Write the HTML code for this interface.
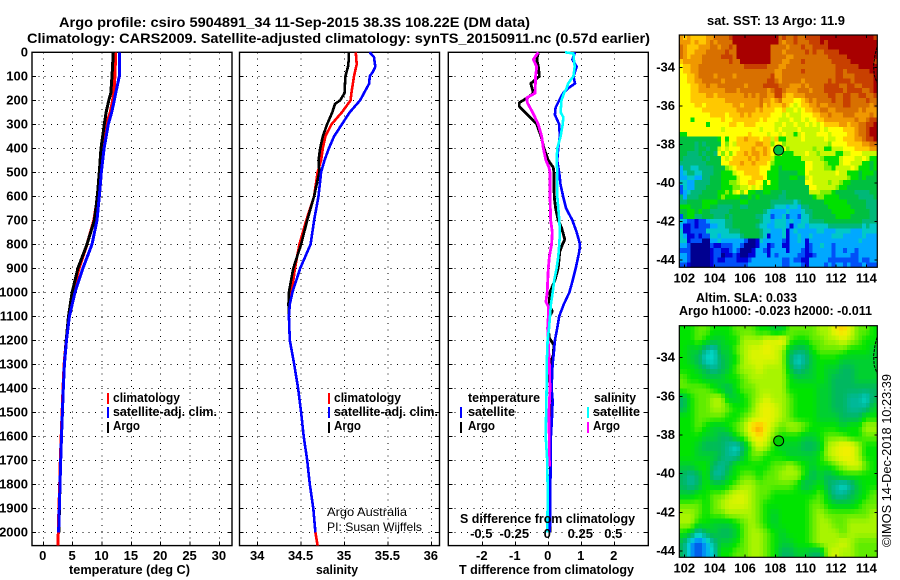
<!DOCTYPE html>
<html lang="en">
<head>
<meta charset="utf-8">
<title>Argo profile csiro 5904891_34</title>
<style>
html,body{margin:0;padding:0;background:#fff;}
svg{display:block;}
text{font-family:"Liberation Sans",sans-serif;font-weight:bold;fill:#000;}
.t{font-size:14px;}
.l{font-size:12.5px;}
.r{font-weight:normal;font-size:12px;}
</style>
</head>
<body>
<svg id="chart" width="900" height="580" viewBox="0 0 900 580" xmlns="http://www.w3.org/2000/svg">
<rect x="0" y="0" width="900" height="580" fill="#fff"></rect>
<text class="t" x="59" y="27" textLength="471" lengthAdjust="spacingAndGlyphs">Argo profile: csiro 5904891_34 11-Sep-2015 38.3S 108.22E (DM data)</text>
<text class="t" x="27" y="43" textLength="623" lengthAdjust="spacingAndGlyphs">Climatology: CARS2009. Satellite-adjusted climatology: synTS_20150911.nc (0.57d earlier)</text>

<g id="panel-layer"></g>

<text class="l" x="69" y="574" textLength="121" lengthAdjust="spacingAndGlyphs">temperature (deg C)</text>
<text class="l" x="316" y="574" textLength="42" lengthAdjust="spacingAndGlyphs">salinity</text>
<text class="l" x="459" y="574" textLength="175" lengthAdjust="spacingAndGlyphs">T difference from climatology</text>
<text class="l" x="460" y="523" textLength="175" lengthAdjust="spacingAndGlyphs">S difference from climatology</text>

<g>
<rect x="107" y="393" width="2" height="11" fill="#f00"></rect>
<rect x="107" y="407" width="2" height="11" fill="#00f"></rect>
<rect x="107" y="422" width="2" height="11" fill="#000"></rect>
<text class="l" x="113" y="402" textLength="67" lengthAdjust="spacingAndGlyphs">climatology</text>
<text class="l" x="113" y="416" textLength="104" lengthAdjust="spacingAndGlyphs">satellite-adj. clim.</text>
<text class="l" x="113" y="430" textLength="27" lengthAdjust="spacingAndGlyphs">Argo</text>
</g>
<g>
<rect x="328" y="393" width="2" height="11" fill="#f00"></rect>
<rect x="328" y="407" width="2" height="11" fill="#00f"></rect>
<rect x="328" y="422" width="2" height="11" fill="#000"></rect>
<text class="l" x="334" y="402" textLength="67" lengthAdjust="spacingAndGlyphs">climatology</text>
<text class="l" x="334" y="416" textLength="104" lengthAdjust="spacingAndGlyphs">satellite-adj. clim.</text>
<text class="l" x="334" y="430" textLength="27" lengthAdjust="spacingAndGlyphs">Argo</text>
</g>
<text class="r" x="327" y="516" textLength="80" lengthAdjust="spacingAndGlyphs">Argo Australia</text>
<text class="r" x="327" y="531" textLength="95" lengthAdjust="spacingAndGlyphs">PI: Susan Wijffels</text>

<g>
<text class="l" x="468" y="402" textLength="72" lengthAdjust="spacingAndGlyphs">temperature</text>
<text class="l" x="594" y="402" textLength="42" lengthAdjust="spacingAndGlyphs">salinity</text>
<rect x="460" y="407" width="2" height="11" fill="#00f"></rect>
<rect x="460" y="422" width="2" height="11" fill="#000"></rect>
<rect x="587" y="407" width="2" height="11" fill="#0ff"></rect>
<rect x="587" y="422" width="2" height="11" fill="#f0f"></rect>
<text class="l" x="468" y="416" textLength="47" lengthAdjust="spacingAndGlyphs">satellite</text>
<text class="l" x="468" y="430" textLength="27" lengthAdjust="spacingAndGlyphs">Argo</text>
<text class="l" x="593" y="416" textLength="47" lengthAdjust="spacingAndGlyphs">satellite</text>
<text class="l" x="593" y="430" textLength="27" lengthAdjust="spacingAndGlyphs">Argo</text>
</g>

<g id="map-layer"></g>

<text class="l" x="707" y="25" textLength="138" lengthAdjust="spacingAndGlyphs">sat. SST: 13 Argo: 11.9</text>
<text class="l" x="696" y="302" textLength="101" lengthAdjust="spacingAndGlyphs">Altim. SLA: 0.033</text>
<text class="l" x="679" y="315" textLength="193" lengthAdjust="spacingAndGlyphs">Argo h1000: -0.023 h2000: -0.011</text>
<text class="r" transform="translate(891,547) rotate(-90)" style="font-size:13px" textLength="173" lengthAdjust="spacingAndGlyphs">©IMOS 14-Dec-2018 10:23:39</text>
</svg>

<script>
const depthTicks = [0,100,200,300,400,500,600,700,800,900,1000,1100,1200,1300,1400,1500,1600,1700,1800,1900,2000];

const tempTicks = [0,5,10,15,20,25,30];
const salTicks = [34,34.5,35,35.5,36];
const salTickLabels = ["34","34.5","35","35.5","36"];
const tDiffTicks = [-2,-1,0,1,2];
const sDiffTicks = [-0.5,-0.25,0,0.25,0.5];
const sDiffTickLabels = ["-0.5","-0.25","0","0.25","0.5"];

const tempDepth = [0,100,170,200,250,300,400,500,600,700,800,900,1000,1100,1200,1300,1400,1500,1600,1700,1800,1900,2000,2055];
const tempClim = [12.33,12.2,12,11.8,11.4,10.7,10.1,9.66,9.27,8.6,7.45,6.1,5,4.3,3.9,3.55,3.35,3.2,3.05,2.9,2.8,2.65,2.55,2.5];
const tempArgo = [11.93,11.7,11.5,11.15,10.7,10.4,9.83,9.54,9.2,8.7,7.45,5.9,4.9,4.3,3.9,3.6,3.4,3.25,3.1,2.97,2.85,2.75,2.65];
const tempSat = [13,12.95,12.33,12.1,11.65,11.07,10.35,9.88,9.54,9.15,8.3,6.75,5.4,4.45,3.95,3.6,3.4,3.25,3.1,2.97,2.85,2.73,2.6];

const salArgoDepth = [0,30,60,100,170,200,215,250,300,350,400,450,500,600,700,800,900,1000,1050,1100,1200,1300,1400,1500,1600,1700,1800,1900,2000];
const salArgo = [35.05,35.05,35.04,35.01,35,34.95,34.89,34.86,34.8,34.75,34.72,34.7,34.71,34.65,34.57,34.5,34.41,34.36,34.355,34.36,34.37,34.42,34.465,34.5,34.53,34.57,34.6,34.64,34.665];
const salClimDepth = [0,50,100,170,200,250,300,350,400,450,500,600,700,800,900,1000,1050,1100,1200,1300,1400,1500,1600,1700,1800,1900,2000,2055];
const salClim = [35.13,35.14,35.11,35.08,35.07,34.97,34.85,34.78,34.75,34.73,34.69,34.65,34.56,34.48,34.43,34.39,34.365,34.36,34.37,34.42,34.465,34.5,34.53,34.57,34.6,34.64,34.665,34.69];
const salSatDepth = [0,20,60,80,100,130,150,200,250,300,350,400,450,500,600,700,800,900,1000,1050,1100,1200,1300,1400,1500,1600,1700,1800,1900,2000];
const salSat = [35.29,35.34,35.355,35.33,35.29,35.285,35.255,35.18,35.06,34.97,34.88,34.82,34.77,34.73,34.7,34.65,34.61,34.49,34.4,34.37,34.36,34.37,34.42,34.465,34.5,34.53,34.57,34.6,34.64,34.665];

const tDiffArgoDepth = [0,30,60,100,130,170,190,210,225,250,300,350,400,450,480,500,600,650,700,730,780,800,830,900,950,1000,1050,1080,1100,1150,1190,1220,1260,1310,1340,1400,1500,1600,1700,2000];
const tDiffArgo = [-0.3,-0.35,-0.3,-0.27,-0.53,-0.45,-0.64,-0.88,-0.88,-0.71,-0.35,-0.22,-0.13,0,0.15,0.17,0.18,0.22,0.3,0.4,0.5,0.43,0.35,0.3,0.2,0.05,0.03,0.12,0.05,0,0.03,0.17,0.15,0.03,0,0.07,0.1,0.07,0.06,0.05];
const tDiffSatDepth = [0,30,60,100,130,150,170,200,230,260,300,350,400,450,500,550,600,650,700,750,800,830,900,950,1000,1050,1100,1150,1200,1250,1300,1400,1450,1500,1600,2000];
const tDiffSat = [0.81,0.73,0.86,0.76,0.81,0.6,0.45,0.33,0.22,0.2,0.33,0.35,0.3,0.27,0.33,0.37,0.45,0.54,0.73,0.86,0.96,0.94,0.83,0.74,0.64,0.47,0.33,0.27,0.2,0.17,0.13,0.1,0.13,0.12,0.08,0.05];
const sDiffArgoDepth = [0,30,60,100,170,190,210,250,300,350,400,450,480,500,600,700,750,800,850,900,1000,1040,1060,1100,1150,1300,1400,1500,1726];
const sDiffArgo = [-0.076,-0.114,-0.088,-0.096,-0.1,-0.164,-0.159,-0.119,-0.076,-0.05,-0.038,-0.018,0.005,0.0126,0.0126,0.018,0.03,0.025,0.008,0,-0.008,-0.018,0,0,-0.005,0.008,0.013,0.005,0.008];
const sDiffSatDepth = [0,5,30,60,100,130,150,170,200,250,270,300,350,400,450,500,600,700,750,800,850,900,950,1000,1050,1100,1150,1200,1250,1300,1400,1600,1700,1800,1900,2000];
const sDiffSat = [0.126,0.19,0.194,0.2,0.19,0.15,0.139,0.119,0.1,0.093,0.114,0.109,0.093,0.068,0.063,0.068,0.068,0.083,0.088,0.083,0.076,0.063,0.045,0.033,0.02,0.013,0.005,-0.005,-0.008,-0.013,-0.013,-0.02,-0.008,-0.005,-0.005,-0.008];

const lonTicks = [102,104,106,108,110,112,114];
const latTicks = [-34,-36,-38,-40,-42,-44];
const argoLon = 108.22;
const argoLat = -38.3;

const sstPalette = ["#000090","#0000d8","#0050f8","#00a8ff","#00c8c8","#00b878","#00c040","#00e000","#80f000","#c8f800","#ffff00","#ffc800","#f09800","#d87000","#c84000","#a80000"];
const sstRows = [
"cbcbbbbccdddde ffffffffffff deddeddeee effffffffffffffe",
"cccbcbbcdcdddd ffffffffffff dcddedddee efeffffffffffff f",
"dcbbbcccddcdde dfffffffffdd ddcdddedde eeefffffffffffff",
"dcbbcccddddded dfffffffffdd dcdddddede ddeeeeffffffffff",
"dcbcccdddddeee dfffffffffdd ddccdddddd dddeeeeeffffffff",
"bcccccddddddde ddffffffffdd dccdddeddd ddddeeeeeffffffe",
"abbccddddddddd dddeeeeeeddd ccdddddddd dddddeeeeeefffff",
"abbccddddddddd dddddddddddc cdddddeddd dddddeedeeeeeeff",
"aabbcddddcdddd cdddddddddec cddddddddd dddddeedddeeeeef",
"aabbccdddddcdd dddddddddeed cdddddcddd dddedeeeedeeeeef",
"aaabbccdccdddd dddcddddeeee dddcccdcdd ddeeeeddeeddeeef",
"aaabbcccccccdd dcdddddddcde edcccdddcd ddeeeeedeeeeddef",
"aaabbbbccbcccc cccdcdcddcce ecbbcccddd dddeeddeeddeedde",
"aaabbbbbbbbbcc cccccccdccbc dbbbaabcdc ddddeddeeddddedd",
"aaaabbabbbbbbb ccbccccdbcbb bcba9abbcc dccddddeedddddcd",
"aaaaaabbbbbbbb bcccccbcbbba ab99a9abbc cddccddddddcdccc",
"aaaaaaaabbbbab bbcbcbbbbbaa a9a999aaab bccdcccdddccccdc",
"aaa7aaaaaaabaa bbbbbbbabaaa 999a99a9aa bbccccccccdccdee",
"aaaaaaa7aaaaab baabbbaaaaa9 9a99a99a9a 9abbbbccbccddeef",
"aaaaaaaaaaa9aa aaaaaaa9aaa9 a9999a9999 9a9aaaabbbcddeff",
"77aaaaaaaaaaaa aaaabaaaa9aa 9a9979a999 aaa9aaaabbcddeff",
"66666666667a7a abbcbbbabb9b 779999a999 99a99aabbbccdeef",
"66665656666a8a 9bbbbbccbb8a a899999999 9998aaaabbbbccdd",
"66665665669a9a aabbbcbbcba7 aa89999998 9977999aaabbbbcc",
"6655565665a8a8 abbcbccbcba8 9777999a99 899997799aaa9999",
"65555565666a9a bbbbcbcbbb97 7777779999 9877779aaa99a977",
"55555556666aab bbcbbcbbba87 7777777aa9 9987779aa9997767",
"35544555566689 abbbbbbaaa77 6777777aa9 998879999a977767",
"34554455566777 9aabbbbaa777 6666677a99 99999a9977767776",
"33443355666777 79aaabbba777 66677669a9 9999999987767666",
"44335555666778 89aabbaa7a77 6666666aa9 9998998776666666",
"24335556666777 8899a9a97777 66666666aa 9999987766666666",
"23455566667787 9a8a77667766 6566666699 9888766666555566",
"53555666667877 776676766666 5566666667 8877776666655556",
"55666677776666 667766666655 5555456666 6677777766666555",
"77766677665555 665566666654 4434435566 6667777776666555",
"66776766555556 666666665433 3343334556 6666777777666655",
"26775566655565 666666554423 3423324456 6666677776666655",
"43221223444455 666666654434 4434334455 5566666666665555",
"31121222334455 666666544334 4431344344 4445555555554544",
"41122224444445 556666654433 3413433333 4433344443334444",
"43112122443444 445666654133 3413343343 3333444333334333",
"44122200334333 333200143333 3213343133 3333333333343333",
"33200000211222 332000133123 3113333123 3433233333333333",
"22200000122112 320001332133 3313332123 3333233233233333",
"33200000122011 210011333132 3333322112 3333233332233333",
"33200000121122 211123333333 3223221133 3332222222232233",
"22100000122222 222233333333 3223332133 3323233232223222"
];

const slaPalette = ["#0048e8","#00a8f8","#00d8c8","#00b898","#00b860","#00d030","#00e400","#60ec00","#a8f400","#d8f400","#f0f000","#ffd000","#ff9000"];
const slaRows = [
"66776667776655777788ab9776",
"6676556688899a766778898766",
"65532557899a98544677776665",
"65422456899998423566655555",
"66543457889888534565544555",
"76655566788888655565444555",
"77776546778888666655444444",
"46778855678988766655443324",
"46778876679a98766655443335",
"66777766789a98766655544466",
"667655678bca87887666656688",
"666554467 9b976 6655 6777 6677",
"6654443247986555 4458 9aa866",
"66555433577666555568 9aa866",
"55664346666677876566 789976",
"43463356776778886454 566666",
"43465567887777764564 323566",
"55667789987766666675 334567",
"77767899987666666776 555677",
"88767788887656666787 777778",
"88665556787656666788 778888",
"65245445788765666788 878888",
"41013556788765566788 898777",
"41012667788764455448 988777"
].map(function (r) { return r.replace(/ /g, ''); });

const NS = "http://www.w3.org/2000/svg";
const yDepth = function (d) { return 52.3 + 0.24 * d; };
const xTemp = function (v) { return 43.3 + 5.87 * v; };
const xSal = function (v) { return 257.7 + 86.8 * (v - 34); };
const xTDiff = function (v) { return 548.3 + 33 * v; };
const xSDiff = function (v) { return 548.3 + 132 * v; };
const xLon = function (v) { return 684.3 + 15.17 * (v - 102); };
const panelTop = 52.3;
const panelBottom = 545.6;

function make(tag, parent, attrs, txt) {
  const el = document.createElementNS(NS, tag);
  Object.keys(attrs).forEach(function (k) { el.setAttribute(k, attrs[k]); });
  if (txt !== undefined) el.textContent = txt;
  parent.appendChild(el);
  return el;
}

const panelLayer = document.getElementById('panel-layer');
const mapLayer = document.getElementById('map-layer');

function drawProfile(parent, name, depths, values, xFn, color, width) {
  let d = '';
  values.forEach(function (v, i) {
    d += (i ? 'L' : 'M') + xFn(v).toFixed(1) + ' ' + yDepth(depths[i]).toFixed(1);
  });
  const el = make('path', parent, {d: d, fill: 'none', stroke: color, 'stroke-width': width, 'stroke-linejoin': 'round', 'shape-rendering': 'crispEdges'});
  
  
}

function drawPanel(name, x0, x1, ticks, xFn, labels, showDepthLabels) {
  const g = make('g', panelLayer, {});
  
  
  depthTicks.forEach(function (d) {
    const y = yDepth(d);
    if (d > 0) {
      const gl = make('line', g, {x1: x0, x2: x1, y1: y, y2: y, stroke: '#000', 'stroke-width': 1, 'stroke-dasharray': '1 5.3', 'shape-rendering': 'crispEdges'});
      
      
      const tk = make('line', g, {x1: x0, x2: x0 + 4, y1: y, y2: y, stroke: '#000', 'stroke-width': 1, 'shape-rendering': 'crispEdges'});
      
      
      const tr = make('line', g, {x1: x1 - 4, x2: x1, y1: y, y2: y, stroke: '#000', 'stroke-width': 1, 'shape-rendering': 'crispEdges'});
      
      
    }
    if (showDepthLabels) {
      const tl = make('text', g, {x: 28, y: y + 4, 'text-anchor': 'end', 'font-size': 13}, String(d));
      
      
    }
  });
  ticks.forEach(function (t, i) {
    const x = xFn(t);
    const gl = make('line', g, {x1: x, x2: x, y1: panelTop, y2: panelBottom, stroke: '#000', 'stroke-width': 1, 'stroke-dasharray': '1 5.3', 'shape-rendering': 'crispEdges'});
    
    
    const tk = make('line', g, {x1: x, x2: x, y1: panelBottom - 4, y2: panelBottom, stroke: '#000', 'stroke-width': 1, 'shape-rendering': 'crispEdges'});
    
    
    const tl = make('text', g, {x: x - 0.5, y: 560, 'text-anchor': 'middle', 'font-size': 13}, labels[i]);
    
    
  });
  const fr = make('rect', g, {x: x0, y: panelTop, width: x1 - x0, height: panelBottom - panelTop, fill: 'none', stroke: '#000', 'stroke-width': 1.4});
  
  
  return g;
}

const tempPanel = drawPanel('temperature-panel', 32, 232, tempTicks, xTemp, tempTicks.map(String), true);
drawProfile(tempPanel, 'temperature-climatology-line', tempDepth, tempClim, xTemp, '#f00', 3);
drawProfile(tempPanel, 'temperature-argo-line', tempDepth, tempArgo, xTemp, '#000', 3);
drawProfile(tempPanel, 'temperature-satellite-line', tempDepth, tempSat, xTemp, '#00f', 3);

const salPanel = drawPanel('salinity-panel', 239.5, 439.5, salTicks, xSal, salTickLabels, false);
drawProfile(salPanel, 'salinity-climatology-line', salClimDepth, salClim, xSal, '#f00', 2.6);
drawProfile(salPanel, 'salinity-argo-line', salArgoDepth, salArgo, xSal, '#000', 2.6);
drawProfile(salPanel, 'salinity-satellite-line', salSatDepth, salSat, xSal, '#00f', 2.6);

const diffPanel = drawPanel('difference-panel', 448.3, 648.3, tDiffTicks, xTDiff, tDiffTicks.map(String), false);
drawProfile(diffPanel, 't-difference-argo-line', tDiffArgoDepth, tDiffArgo, xTDiff, '#000', 2.8);
drawProfile(diffPanel, 't-difference-satellite-line', tDiffSatDepth, tDiffSat, xTDiff, '#00f', 2.6);
drawProfile(diffPanel, 's-difference-argo-line', sDiffArgoDepth, sDiffArgo, xSDiff, '#f0f', 2.8);
drawProfile(diffPanel, 's-difference-satellite-line', sDiffSatDepth, sDiffSat, xSDiff, '#0ff', 2.6);

sDiffTicks.forEach(function (t, i) {
  const el = make('text', diffPanel, {x: xSDiff(t) - 1, y: 538, 'text-anchor': 'middle', 'font-size': 13}, sDiffTickLabels[i]);
  
  
});

function hex2rgb(h) {
  return [parseInt(h.substr(1, 2), 16), parseInt(h.substr(3, 2), 16), parseInt(h.substr(5, 2), 16)];
}
function slaColor(v) {
  const i = Math.max(0, Math.min(slaPalette.length - 1.001, v));
  const f = Math.floor(i);
  const a = hex2rgb(slaPalette[f]);
  const b = hex2rgb(slaPalette[f + 1]);
  const t = i - f;
  return 'rgb(' + Math.round(a[0] + (b[0] - a[0]) * t) + ',' + Math.round(a[1] + (b[1] - a[1]) * t) + ',' + Math.round(a[2] + (b[2] - a[2]) * t) + ')';
}
function slaValue(r, c) {
  const row = slaRows[Math.max(0, Math.min(slaRows.length - 1, r))];
  return parseInt(row[Math.max(0, Math.min(row.length - 1, c))], 16);
}
function slaSample(rf, cf) {
  const r0 = Math.floor(rf), c0 = Math.floor(cf), tr = rf - r0, tc = cf - c0;
  return (slaValue(r0, c0) * (1 - tc) + slaValue(r0, c0 + 1) * tc) * (1 - tr) +
         (slaValue(r0 + 1, c0) * (1 - tc) + slaValue(r0 + 1, c0 + 1) * tc) * tr;
}

const mapX0 = 679.3, mapX1 = 877.3, mapCols = 52, mapRows = 48;

function drawMapFrame(name, y0, y1, yLat, circleFill) {
  const g = make('g', mapLayer, {});
  
  
  const coast = make('path', g, {d: 'M877 ' + yLat(-32.95) + 'L875 ' + yLat(-33.35) + 'L873.6 ' + yLat(-33.9) + 'L874.2 ' + yLat(-34.4) + 'L877 ' + yLat(-34.8), fill: 'none', stroke: '#000', 'stroke-width': 1, 'stroke-dasharray': '3 1'});
  
  
  const marker = make('circle', g, {cx: xLon(argoLon), cy: yLat(argoLat), r: 5, fill: circleFill, stroke: '#000', 'stroke-width': 1});
  
  
  lonTicks.forEach(function (t) {
    const x = xLon(t);
    const tk = make('path', g, {d: 'M' + x + ' ' + y0 + 'v3M' + x + ' ' + y1 + 'v-3', stroke: '#000', 'stroke-width': 1, 'shape-rendering': 'crispEdges'});
    
    
    const tl = make('text', g, {x: x, y: y1 + 15, 'text-anchor': 'middle', 'font-size': 13}, String(t));
    
    
  });
  latTicks.forEach(function (t) {
    const y = yLat(t);
    const tk = make('path', g, {d: 'M' + mapX0 + ' ' + y + 'h3M' + mapX1 + ' ' + y + 'h-3', stroke: '#000', 'stroke-width': 1, 'shape-rendering': 'crispEdges'});
    
    
    const tl = make('text', g, {x: 675, y: y + 4, 'text-anchor': 'end', 'font-size': 13}, String(t));
    
    
  });
  const fr = make('rect', g, {x: mapX0, y: y0, width: mapX1 - mapX0, height: y1 - y0, fill: 'none', stroke: '#000', 'stroke-width': 1.2});
  
  
}

const sstY0 = 35, sstY1 = 267.3;
const sstCells = make('g', mapLayer, {'shape-rendering': 'crispEdges'});


sstRows.forEach(function (rowRaw, r) {
  const row = rowRaw.replace(/ /g, '');
  for (let c = 0; c < mapCols; c++) {
    const v = parseInt(row[Math.min(c, row.length - 1)], 16);
    const w = (mapX1 - mapX0) / mapCols, h = (sstY1 - sstY0) / mapRows;
    const cell = make('rect', sstCells, {x: (mapX0 + c * w).toFixed(2), y: (sstY0 + r * h).toFixed(2), width: (w + 0.3).toFixed(2), height: (h + 0.3).toFixed(2), fill: sstPalette[v]});
    
    
  }
});
drawMapFrame('sst-map-axes', sstY0, sstY1, function (lat) { return 67.3 + 19.27 * (-34 - lat); }, '#00c040');

const slaY0 = 325.7, slaY1 = 557.3;
const slaCells = make('g', mapLayer, {'shape-rendering': 'crispEdges'});


for (let r = 0; r < mapRows; r++) {
  for (let c = 0; c < mapCols; c++) {
    const w = (mapX1 - mapX0) / mapCols, h = (slaY1 - slaY0) / mapRows;
    const v = slaSample((r + 0.5) / 2 - 0.5, (c + 0.5) / 2 - 0.5);
    const cell = make('rect', slaCells, {x: (mapX0 + c * w).toFixed(2), y: (slaY0 + r * h).toFixed(2), width: (w + 0.3).toFixed(2), height: (h + 0.3).toFixed(2), fill: slaColor(v)});
    
    
  }
}
drawMapFrame('sla-map-axes', slaY0, slaY1, function (lat) { return 357.7 + 19.33 * (-34 - lat); }, '#00d000');
</script>
</body>
</html>
